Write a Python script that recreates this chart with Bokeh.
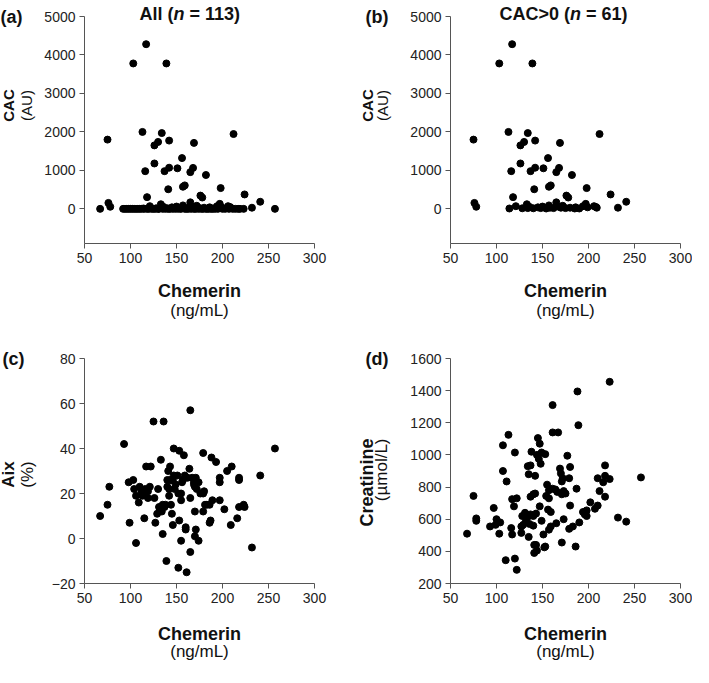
from bokeh.plotting import figure
from bokeh.models import Range1d, FixedTicker, Label
from bokeh.layouts import gridplot
from bokeh.embed import file_html
from bokeh.resources import INLINE

# ---------------- data ----------------
x_ticks = [50, 100, 150, 200, 250, 300]
cac_ticks = [0, 1000, 2000, 3000, 4000, 5000]
aix_ticks = [-20, 0, 20, 40, 60, 80]
creat_ticks = [200, 400, 600, 800, 1000, 1200, 1400, 1600]

# CAC > 0 patients (panel b, also part of panel a)
cac_pos_chemerin = [117, 103, 139, 75, 113, 134, 126, 130, 142, 169,
                    212, 116, 126, 137, 142, 151, 156, 168, 165, 182,
                    157, 159, 141, 118, 176, 178, 198, 224, 241, 76,
                    78, 232,
                    114, 121, 133, 134, 136, 140, 145, 148, 150, 154,
                    157, 158, 162, 165, 167, 170, 172, 175, 180, 186,
                    190, 194, 197, 199, 206, 209, 208, 128, 185]
cac_pos_value = [4280, 3780, 3780, 1800, 2000, 1970, 1650, 1740, 1775, 1715,
                 1945, 980, 1180, 980, 1070, 1055, 1320, 1065, 955, 880,
                 575, 610, 510, 305, 345, 295, 540, 375, 185, 155,
                 55, 30,
                 10, 70, 120, 20, 50, 15, 40, 20, 60, 10,
                 90, 30, 20, 170, 60, 30, 80, 20, 30, 40,
                 10, 70, 130, 40, 70, 30, 50, 15, 10]
# CAC = 0 patients (only in panel a)
cac_zero_chemerin = [67, 92, 94, 96, 98, 100, 102, 104, 106, 108,
                     110, 112, 115, 118, 120, 123, 125, 127, 130, 131,
                     135, 138, 141, 143, 146, 149, 152, 155, 159, 161,
                     163, 166, 169, 171, 174, 177, 179, 182, 184, 187,
                     189, 192, 195, 200, 203, 207, 211, 214, 217, 219,
                     223, 257]
cac_zero_value = [0] * len(cac_zero_chemerin)

# Panel c: AIx
aix_chemerin = [67, 75, 77, 93, 99, 98, 103, 106, 104, 106,
                109, 110, 112, 113, 115, 116, 117, 122, 115, 119,
                121, 119, 125, 136, 126, 127, 130, 129, 133, 132,
                135, 135, 138, 139, 140, 140, 141, 143, 144, 142,
                145, 146, 147, 147, 149, 146, 143, 152, 153, 152,
                153, 155, 155, 155, 158, 160, 160, 161, 157, 159,
                164, 165, 165, 165, 167, 169, 171, 169, 170, 170,
                171, 170, 174, 172, 176, 179, 179, 179, 181, 183,
                186, 186, 187, 189, 188, 193, 197, 197, 197, 202,
                205, 209, 210, 216, 218, 218, 218, 223, 224, 232,
                241, 257, 134, 137, 131, 148, 151, 162, 145, 156,
                174, 142, 180]
aix_value = [10, 15, 23, 42, 7, 25, 26, -2, 22, 19,
             16, 23, 21, 19, 20, 22, 32, 32, 9, 21,
             23, 18, 52, 52, 18, 7, 22, 11, 35, 13,
             15, 2, 15, -10, 26, 23, 30, 32, 15, 19,
             11, 6, 40, 28, 24, 26, 26, 20, 39, -13,
             8, 20, 17, -1, 37, 5, 4, -15, 26, 28,
             31, 57, 18, -6, 27, 25, 27, 24, 23, 12,
             4, 1, -1, 22, 20, 38, 20, 12, 15, 15,
             15, 7, 8, 17, 36, 34, 25, 27, 17, 13,
             30, 6, 32, 9, 27, 26, 14, 15, 14, -4,
             28, 40, 12, 14, 14, 22, 28, 27, 26, 25,
             25, 22, 21]

# Panel d: creatinine
creat_chemerin = [68, 75, 78, 78, 97, 100, 104, 93, 99, 103,
                  107, 113, 120, 107, 111, 117, 122, 119, 116, 117,
                  110, 120, 122, 128, 131, 134, 132, 137, 140, 143,
                  129, 127, 136, 140, 127, 135, 137, 140, 142, 145,
                  147, 138, 177, 144, 149, 153, 146, 148, 134, 137,
                  135, 142, 147, 149, 156, 159, 154, 157, 141, 143,
                  141, 144, 153, 152, 151, 157, 159, 161, 161, 167,
                  155, 157, 161, 164, 166, 165, 169, 170, 172, 171,
                  180, 179, 173, 175, 171, 187, 180, 173, 179, 183,
                  190, 171, 186, 194, 198, 196, 198, 202, 207, 210,
                  212, 218, 210, 218, 216, 223, 218, 232, 241, 257,
                  223, 188, 189]
creat_value = [510, 745, 605, 590, 670, 600, 580, 555, 565, 510,
               1060, 1125, 1015, 900, 835, 725, 730, 680, 545, 505,
               345, 355, 285, 620, 640, 615, 590, 630, 620, 635,
               565, 555, 570, 560, 515, 490, 740, 755, 760, 1105,
               1070, 1020, 995, 1000, 1015, 1005, 975, 945, 930, 935,
               880, 870, 680, 590, 660, 645, 745, 730, 440, 440,
               390, 405, 430, 425, 505, 535, 555, 1310, 1140, 1140,
               815, 780, 790, 785, 770, 575, 915, 885, 855, 835,
               925, 855, 775, 760, 755, 790, 685, 600, 540, 555,
               580, 455, 430, 645, 655, 630, 620, 705, 665, 685,
               775, 935, 855, 870, 830, 850, 740, 610, 585, 860,
               1455, 1395, 1185]

# ---------------- styling / layout (pixels) ----------------
FONT = "Liberation Sans"
AXIS_COLOR = "#555555"
TEXT_COLOR = "#111111"
AXIS_W = 230            # px between x = 50 and x = 300
W_LEFT, W_RIGHT = 350, 342
H_TOP, H_BOT = 338, 330


def style_axis(ax, ticks):
    ax.ticker = FixedTicker(ticks=ticks)
    ax.axis_line_color = AXIS_COLOR
    ax.axis_line_width = 1
    ax.major_tick_line_color = AXIS_COLOR
    ax.major_tick_in = 0
    ax.major_tick_out = 5
    ax.minor_tick_line_color = None
    ax.major_label_text_font = FONT
    ax.major_label_text_font_size = "14px"
    ax.major_label_text_color = "#222222"
    ax.major_label_standoff = 4


def add_label(p, text, x, y_top, size="18px", style="bold", align="left",
              baseline="alphabetic", angle=0):
    # x: px from canvas left, y_top: px from canvas top
    H = p.height
    p.add_layout(Label(x=x, y=H - y_top, x_units="screen", y_units="screen",
                       text=text, text_font=FONT, text_font_size=size,
                       text_font_style=style, text_align=align,
                       text_baseline=baseline, angle=angle,
                       angle_units="deg", text_color=TEXT_COLOR))


def make_panel(xs, ys, W, H, ax_left, ax_top, ax_bottom, y_lo, y_hi, yticks):
    kx = 250.0 / AXIS_W
    ky = (y_hi - y_lo) / float(ax_bottom - ax_top)
    x0 = 50 - ax_left * kx
    x1 = 50 + (W - ax_left) * kx
    y1 = y_hi + ax_top * ky
    y0 = y_lo - (H - ax_bottom) * ky
    p = figure(width=W, height=H, x_range=Range1d(x0, x1),
               y_range=Range1d(y0, y1), min_border=0,
               output_backend="svg", toolbar_location=None,
               background_fill_color="white", border_fill_color="white")
    p.outline_line_color = None
    p.grid.visible = False
    p.scatter(xs, ys, size=7, color="black", line_color="black")
    xa = p.xaxis[0]
    ya = p.yaxis[0]
    style_axis(xa, x_ticks)
    style_axis(ya, yticks)
    xa.fixed_location = y_lo
    xa.bounds = (50, 300)
    ya.fixed_location = 50
    ya.bounds = (y_lo, y_hi)
    return p


def x_labels(p, ax_left, ax_bottom, d1, d2):
    cx = ax_left + AXIS_W / 2.0
    add_label(p, "Chemerin", cx, ax_bottom + d1, size="18px", align="center")
    add_label(p, "(ng/mL)", cx, ax_bottom + d2, size="17px", style="normal", align="center")


# Panel (a)
all_chem = cac_pos_chemerin + cac_zero_chemerin
all_cac = cac_pos_value + cac_zero_value
pa = make_panel(all_chem, all_cac, W_LEFT, H_TOP, 84, 16, 243, -900, 5000, cac_ticks)
add_label(pa, "(a)", 0, 16, baseline="middle")
add_label(pa, "All (", 139, 13)
add_label(pa, "n", 173, 13, style="bold italic")
add_label(pa, "= 113)", 189, 13)
add_label(pa, "CAC", 8, 105, size="15px", align="center", baseline="middle", angle=90)
add_label(pa, "(AU)", 26, 105, size="15px", style="normal", align="center", baseline="middle", angle=90)
x_labels(pa, 84, 243, 47, 67)

# Panel (b)
pb = make_panel(cac_pos_chemerin, cac_pos_value, W_RIGHT, H_TOP, 100, 16, 243, -900, 5000, cac_ticks)
add_label(pb, "(b)", 15, 16, baseline="middle")
add_label(pb, "CAC>0 (", 149, 13)
add_label(pb, "n", 219.5, 13, style="bold italic")
add_label(pb, "= 61)", 235.5, 13)
add_label(pb, "CAC", 17, 105, size="15px", align="center", baseline="middle", angle=90)
add_label(pb, "(AU)", 32, 105, size="15px", style="normal", align="center", baseline="middle", angle=90)
x_labels(pb, 100, 243, 47, 67)

# Panel (c)
pc = make_panel(aix_chemerin, aix_value, W_LEFT, H_BOT, 84, 20, 245, -20, 80, aix_ticks)
add_label(pc, "(c)", 2, 20)
add_label(pc, "Aix", 8, 136, size="17px", align="center", baseline="middle", angle=90)
add_label(pc, "(%)", 27, 136, size="17px", style="normal", align="center", baseline="middle", angle=90)
x_labels(pc, 84, 245, 50, 68)

# Panel (d)
pd_ = make_panel(creat_chemerin, creat_value, W_RIGHT, H_BOT, 100, 20, 245, 200, 1600, creat_ticks)
add_label(pd_, "(d)", 15, 20)
add_label(pd_, "Creatinine", 16, 100, size="18px", align="right", baseline="middle", angle=90)
add_label(pd_, "(\u00b5mol/L)", 31, 100, size="17px", style="normal", align="right", baseline="middle", angle=90)
x_labels(pd_, 100, 245, 50, 68)

layout = gridplot([[pa, pb], [pc, pd_]], toolbar_location=None)

open("out.html", "w").write(file_html(layout, INLINE))
